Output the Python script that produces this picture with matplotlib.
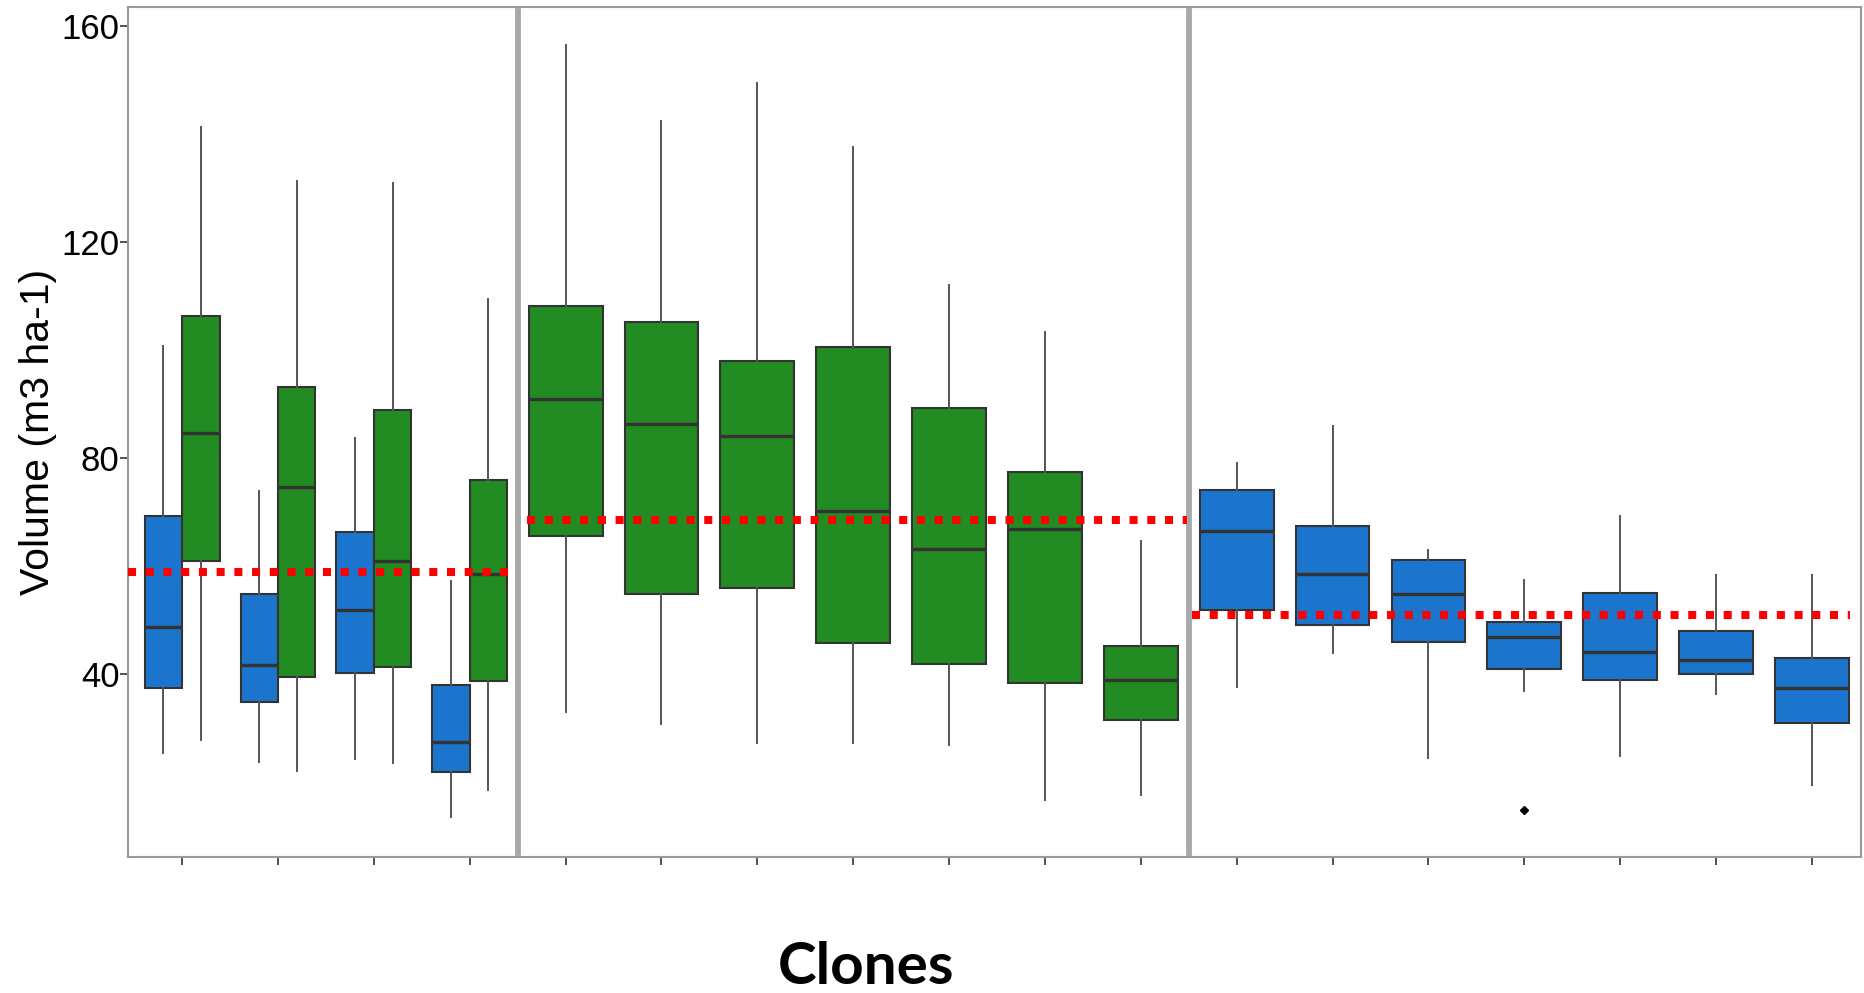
import matplotlib
matplotlib.use("Agg")
import matplotlib.pyplot as plt
import numpy as np

# Box statistics per box, left to right.
# Section 1: clones grown as both types (A left, B right); section 2: type B; section 3: type A
clone_slot = [0, 0, 1, 1, 2, 2, 3, 3, 4, 5, 6, 7, 8, 9, 10, 11, 12, 13, 14, 15, 16, 17]
clone_type = ["A", "B", "A", "B", "A", "B", "A", "B",
              "B", "B", "B", "B", "B", "B", "B",
              "A", "A", "A", "A", "A", "A", "A"]
whislo = [25.4, 27.8, 23.8, 22.1, 24.3, 23.6, 13.5, 18.6,
          33.0, 30.8, 27.3, 27.3, 26.9, 16.7, 17.6,
          37.7, 44.0, 24.4, 36.9, 24.8, 36.3, 19.4]
q1 = [37.5, 60.9, 34.8, 39.5, 40.3, 41.4, 21.9, 38.8,
      65.6, 54.8, 56.0, 45.8, 41.8, 38.3, 31.6,
      51.9, 49.1, 45.9, 41.0, 39.0, 40.0, 30.9]
med = [48.8, 84.6, 41.7, 74.6, 51.8, 60.9, 27.5, 58.6,
       91.0, 86.3, 84.1, 70.3, 63.1, 66.9, 38.9,
       66.5, 58.5, 54.9, 46.8, 44.1, 42.6, 37.5]
q3 = [69.3, 106.4, 54.9, 93.2, 66.3, 89.0, 38.0, 75.9,
      108.1, 105.2, 97.9, 100.6, 89.2, 77.4, 45.2,
      74.1, 67.4, 61.1, 49.7, 55.0, 47.9, 43.0]
whishi = [100.7, 141.4, 73.9, 131.3, 83.7, 130.9, 57.2, 109.5,
          156.5, 142.4, 149.5, 137.6, 112.0, 103.4, 64.7,
          79.1, 86.0, 62.9, 57.5, 69.2, 58.4, 58.4]
outliers = {18: [14.9]}

# mean volume of each section (red dotted lines)
section_mean = [58.9, 68.6, 51.0]

palette = {"A": "#1b75cd", "B": "#228b22"}

fig = plt.figure(figsize=(18.64, 9.93), dpi=100)
ax = fig.add_axes([0.0689, 0.1367, 0.9294, 0.8561])

n_slots = max(clone_slot) + 1
slot_count = np.bincount(clone_slot)

positions, widths = [], []
for s, t in zip(clone_slot, clone_type):
    if slot_count[s] == 2:
        positions.append(s + (-0.195 if t == "A" else 0.195))
        widths.append(0.39)
    else:
        positions.append(s)
        widths.append(0.77)

stats = []
for i in range(len(med)):
    stats.append(dict(whislo=whislo[i], q1=q1[i], med=med[i], q3=q3[i],
                      whishi=whishi[i], fliers=outliers.get(i, [])))

bp = ax.bxp(stats, positions=positions, widths=widths, patch_artist=True,
            showcaps=False, showfliers=True,
            boxprops=dict(edgecolor="#333333", linewidth=1.5),
            medianprops=dict(color="#333333", linewidth=2.4),
            whiskerprops=dict(color="#555555", linewidth=1.4),
            flierprops=dict(marker="D", markersize=4, markerfacecolor="black",
                            markeredgecolor="black"))
for patch, t in zip(bp["boxes"], clone_type):
    patch.set_facecolor(palette[t])

# separators between the three sections
sep1, sep2 = 3.5, 10.5
for x in (sep1, sep2):
    ax.axvline(x, ymin=0.005, ymax=0.995, color="#a8a8a8", linewidth=4.2, zorder=1)

x0, x1 = -0.56, 17.51
spans = [(x0, sep1 - 0.1), (sep1 + 0.1, sep2 - 0.02), (sep2 + 0.03, 17.4)]
for m, (a, b) in zip(section_mean, spans):
    ax.plot([a, b], [m, m], color="#ff0000", linewidth=5.8,
            linestyle=(0, (1, 1.2)), solid_capstyle="butt", zorder=5)

ax.set_xlim(x0, x1)
ax.set_ylim(6.1, 163.5)
ax.set_xticks(range(n_slots))
ax.set_xticklabels([])
ax.set_yticks([40, 80, 120, 160])
ax.tick_params(axis="y", labelsize=25, length=6, width=1.2, color="#333333", pad=0.5)
ax.tick_params(axis="x", length=6, width=1.2, color="#333333")
for lab in ax.get_yticklabels():
    lab.set_family("Liberation Sans")

for sp in ax.spines.values():
    sp.set_color("#999999")
    sp.set_linewidth(1.5)

ax.set_ylabel("Volume (m3 ha-1)", fontsize=29.5, family="Liberation Sans", labelpad=3)
fig.text(0.4646, 0.009, "Clones", ha="center", va="baseline", fontsize=42,
         fontweight="bold", family="Lato")

fig.savefig("out.png", dpi=100)
